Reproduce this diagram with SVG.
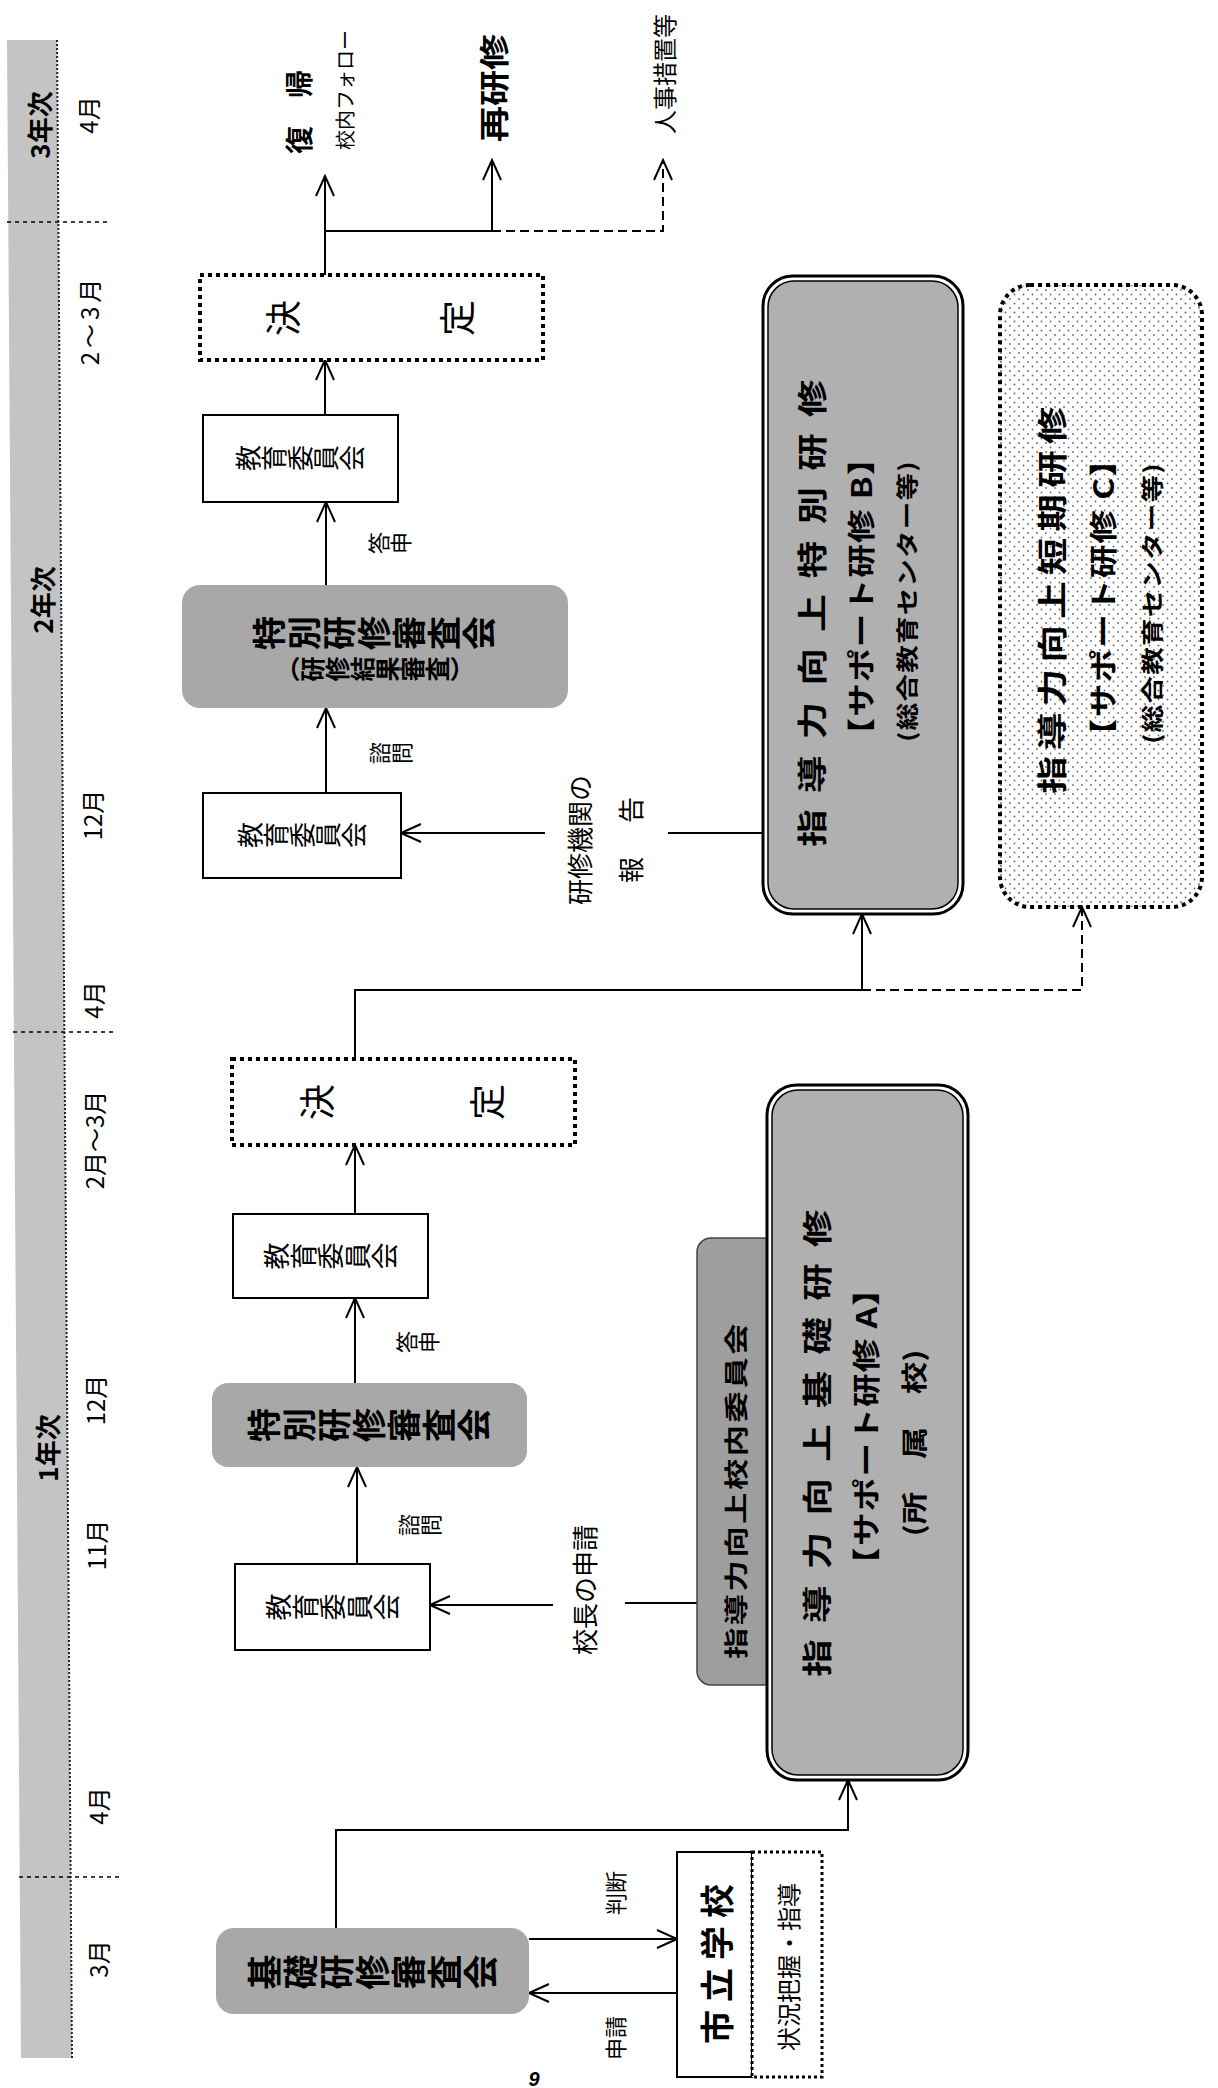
<svg xmlns="http://www.w3.org/2000/svg" width="1218" height="2088" viewBox="0 0 1218 2088">
<style>
.t{font-family:"Noto Sans CJK JP","Noto Sans CJK SC",sans-serif;fill:#000}
.b{font-weight:700}
.v{writing-mode:vertical-rl}
.ln{stroke:#000;stroke-width:2;fill:none}
.dsh{stroke-dasharray:9 5}
.box{fill:#fff;stroke:#000;stroke-width:2}
.dotb{fill:#fff;stroke:#000;stroke-width:4;stroke-dasharray:4 4}
.gray{fill:#a8a8a8}
.sep{stroke:#000;stroke-width:1.5;stroke-dasharray:4 4;fill:none}
</style>
<defs>
<marker id="arr" viewBox="-24 -12 26 24" refX="0" refY="0" markerWidth="26" markerHeight="24" markerUnits="userSpaceOnUse" orient="auto">
<path d="M-20,-9 L0,0 L-20,9" fill="none" stroke="#000" stroke-width="2" stroke-linejoin="miter"/>
</marker>
<pattern id="dots" width="9" height="9" patternUnits="userSpaceOnUse">
<circle cx="2" cy="2" r="0.9" fill="#666"/><circle cx="6.5" cy="6.5" r="0.9" fill="#666"/>
</pattern>
</defs>
<rect width="1218" height="2088" fill="#fff"/>

<g id="timeline">
<polygon points="7,40 57,40 72,2058 21,2058" fill="#c4c4c4"/>
<line x1="57" y1="40" x2="72" y2="2058" stroke="#222" stroke-width="2" stroke-dasharray="2 2"/>
<line class="sep" x1="7" y1="222" x2="110" y2="222"/>
<line class="sep" x1="13" y1="1032" x2="116" y2="1032"/>
<line class="sep" x1="19" y1="1877" x2="123" y2="1877"/>
<text class="t b" font-size="26" text-anchor="middle" dominant-baseline="central" transform="translate(38,125) rotate(-90)">3年次</text>
<text class="t b" font-size="26" text-anchor="middle" dominant-baseline="central" transform="translate(41,600) rotate(-90)">2年次</text>
<text class="t b" font-size="26" text-anchor="middle" dominant-baseline="central" transform="translate(46,1448) rotate(-90)">1年次</text>
<text class="t" font-size="24" text-anchor="middle" dominant-baseline="central" transform="translate(87,115) rotate(-90)">4月</text>
<text class="t" font-size="24" text-anchor="middle" dominant-baseline="central" letter-spacing="4" transform="translate(88,320) rotate(-90)">2〜3月</text>
<text class="t" font-size="24" text-anchor="middle" dominant-baseline="central" transform="translate(91,815) rotate(-90)">12月</text>
<text class="t" font-size="24" text-anchor="middle" dominant-baseline="central" transform="translate(92,1000) rotate(-90)">4月</text>
<text class="t" font-size="24" text-anchor="middle" dominant-baseline="central" transform="translate(93,1140) rotate(-90)">2月〜3月</text>
<text class="t" font-size="24" text-anchor="middle" dominant-baseline="central" transform="translate(94,1400) rotate(-90)">12月</text>
<text class="t" font-size="24" text-anchor="middle" dominant-baseline="central" transform="translate(95,1545) rotate(-90)">11月</text>
<text class="t" font-size="24" text-anchor="middle" dominant-baseline="central" transform="translate(97,1806) rotate(-90)">4月</text>
<text class="t" font-size="24" text-anchor="middle" dominant-baseline="central" transform="translate(97,1959) rotate(-90)">3月</text>
</g>

<g id="connectors">
<path class="ln" d="M325,275 V176" marker-end="url(#arr)"/>
<path class="ln" d="M325,231 H492 V160" marker-end="url(#arr)"/>
<path class="ln dsh" d="M492,231 H663 V160" marker-end="url(#arr)"/>
<path class="ln" d="M325,415 V360" marker-end="url(#arr)"/>
<path class="ln" d="M326,585 V502" marker-end="url(#arr)"/>
<path class="ln" d="M326,793 V708" marker-end="url(#arr)"/>
<path class="ln" d="M545,833 H401" marker-end="url(#arr)"/>
<path class="ln" d="M668,833 H763"/>
<path class="ln" d="M355,1059 V990 H862 V914" marker-end="url(#arr)"/>
<path class="ln dsh" d="M862,990 H1082 V907" marker-end="url(#arr)"/>
<path class="ln" d="M355,1214 V1145" marker-end="url(#arr)"/>
<path class="ln" d="M355,1383 V1298" marker-end="url(#arr)"/>
<path class="ln" d="M357,1564 V1467" marker-end="url(#arr)"/>
<path class="ln" d="M553,1605 H430" marker-end="url(#arr)"/>
<path class="ln" d="M625,1603 H697"/>
<path class="ln" d="M336,1928 V1830 H848 V1780" marker-end="url(#arr)"/>
<path class="ln" d="M529,1939 H677" marker-end="url(#arr)"/>
<path class="ln" d="M677,1993 H529" marker-end="url(#arr)"/>
</g>

<g id="label-fukki">
<text class="t b" font-size="28" text-anchor="middle" dominant-baseline="central" transform="translate(298,112) rotate(-90)">復　帰</text>
<text class="t" font-size="20" text-anchor="middle" dominant-baseline="central" transform="translate(344,90) rotate(-90)">校内フォロー</text>
</g>
<g id="label-saikenshu">
<text class="t b" font-size="30" text-anchor="middle" dominant-baseline="central" transform="translate(492,88) rotate(-90) scale(1.2,1)">再研修</text>
</g>
<g id="label-jinji">
<text class="t" font-size="24" text-anchor="middle" dominant-baseline="central" transform="translate(663,74) rotate(-90)">人事措置等</text>
</g>

<g id="kettei-2">
<rect class="dotb" x="200" y="275" width="343" height="85"/>
<text class="t v" font-size="36" text-anchor="middle" transform="translate(283,318) rotate(-90)">決</text>
<text class="t v" font-size="36" text-anchor="middle" transform="translate(457,318) rotate(-90)">定</text>
</g>
<g id="kyoiku-2b">
<rect class="box" x="203" y="415" width="195" height="87"/>
<text class="t v" font-size="26" text-anchor="middle" transform="translate(300,458) rotate(-90)">教育委員会</text>
</g>
<g id="toshin-2">
<text class="t v" font-size="22" text-anchor="middle" transform="translate(390,543) rotate(-90)">答申</text>
</g>
<g id="tokubetsu-2">
<rect class="gray" x="182" y="585" width="386" height="123" rx="18"/>
<text class="t v b" font-size="34" letter-spacing="1" text-anchor="middle" transform="translate(375,633) rotate(-90)">特別研修審査会</text>
<text class="t v b" font-size="25" text-anchor="middle" transform="translate(375,669) rotate(-90)">（研修結果審査）</text>
</g>
<g id="shimon-2">
<text class="t v" font-size="22" text-anchor="middle" transform="translate(391,753) rotate(-90)">諮問</text>
</g>
<g id="kyoiku-2a">
<rect class="box" x="203" y="793" width="198" height="85"/>
<text class="t v" font-size="26" text-anchor="middle" transform="translate(302,835) rotate(-90)">教育委員会</text>
</g>
<g id="houkoku">
<text class="t" font-size="26" text-anchor="middle" dominant-baseline="central" transform="translate(578,840) rotate(-90)">研修機関の</text>
<text class="t" font-size="26" letter-spacing="4" text-anchor="middle" dominant-baseline="central" transform="translate(629,838) rotate(-90)">報　告</text>
</g>

<g id="kenshu-b">
<rect x="763" y="276" width="200" height="638" rx="30" fill="#fff" stroke="#000" stroke-width="3"/>
<rect x="768" y="281" width="190" height="628" rx="26" fill="#b0b0b0" stroke="#000" stroke-width="1.5"/>
<text class="t b" font-size="30" letter-spacing="13" text-anchor="middle" dominant-baseline="central" transform="translate(810,605) rotate(-90) scale(1.25,1)">指導力向上特別研修</text>
<text class="t b" font-size="28" letter-spacing="1" text-anchor="middle" dominant-baseline="central" transform="translate(860,596) rotate(-90) scale(1.2,1)">【サポート研修 B】</text>
<text class="t b" font-size="22" letter-spacing="1" text-anchor="middle" dominant-baseline="central" transform="translate(905,601) rotate(-90) scale(1.25,1)">(総合教育センター等)</text>
</g>
<g id="kenshu-c">
<rect x="1000" y="285" width="202" height="622" rx="30" fill="url(#dots)"/>
<rect x="1000" y="285" width="202" height="622" rx="30" fill="none" stroke="#000" stroke-width="4" stroke-dasharray="4 4"/>
<text class="t b" font-size="30" letter-spacing="5" text-anchor="middle" dominant-baseline="central" transform="translate(1050,597) rotate(-90) scale(1.25,1)">指導力向上短期研修</text>
<text class="t b" font-size="28" letter-spacing="1" text-anchor="middle" dominant-baseline="central" transform="translate(1102,597) rotate(-90) scale(1.2,1)">【サポート研修 C】</text>
<text class="t b" font-size="22" letter-spacing="1" text-anchor="middle" dominant-baseline="central" transform="translate(1150,603) rotate(-90) scale(1.25,1)">(総合教育センター等)</text>
</g>

<g id="kettei-1">
<rect class="dotb" x="232" y="1059" width="343" height="86"/>
<text class="t v" font-size="36" text-anchor="middle" transform="translate(317,1102) rotate(-90)">決</text>
<text class="t v" font-size="36" text-anchor="middle" transform="translate(487,1102) rotate(-90)">定</text>
</g>
<g id="kyoiku-1b">
<rect class="box" x="233" y="1214" width="195" height="84"/>
<text class="t v" font-size="27" text-anchor="middle" transform="translate(331,1256) rotate(-90)">教育委員会</text>
</g>
<g id="toshin-1">
<text class="t v" font-size="22" text-anchor="middle" transform="translate(418,1342) rotate(-90)">答申</text>
</g>
<g id="tokubetsu-1">
<rect class="gray" x="212" y="1383" width="315" height="84" rx="16"/>
<text class="t v b" font-size="34" letter-spacing="1" text-anchor="middle" transform="translate(370,1425) rotate(-90)">特別研修審査会</text>
</g>
<g id="shimon-1">
<text class="t v" font-size="22" text-anchor="middle" transform="translate(420,1525) rotate(-90)">諮問</text>
</g>
<g id="kyoiku-1a">
<rect class="box" x="235" y="1564" width="195" height="86"/>
<text class="t v" font-size="27" text-anchor="middle" transform="translate(333,1607) rotate(-90)">教育委員会</text>
</g>
<g id="shinsei-kocho">
<text class="t" font-size="26" text-anchor="middle" dominant-baseline="central" transform="translate(583,1590) rotate(-90)">校長の申請</text>
</g>
<g id="konai-iinkai">
<rect x="697" y="1238" width="80" height="447" rx="14" fill="#9e9e9e" stroke="#444" stroke-width="1.5"/>
<text class="t b" font-size="24" letter-spacing="2" text-anchor="middle" dominant-baseline="central" transform="translate(735,1490) rotate(-90) scale(1.3,1)">指導力向上校内委員会</text>
</g>
<g id="kenshu-a">
<rect x="767" y="1085" width="201" height="695" rx="30" fill="#fff" stroke="#000" stroke-width="3"/>
<rect x="772" y="1090" width="191" height="685" rx="26" fill="#b0b0b0" stroke="#000" stroke-width="1.5"/>
<text class="t b" font-size="30" letter-spacing="13" text-anchor="middle" dominant-baseline="central" transform="translate(815,1435) rotate(-90) scale(1.25,1)">指導力向上基礎研修</text>
<text class="t b" font-size="28" letter-spacing="1" text-anchor="middle" dominant-baseline="central" transform="translate(865,1426) rotate(-90) scale(1.2,1)">【サポート研修 A】</text>
<text class="t b" font-size="26" text-anchor="middle" dominant-baseline="central" transform="translate(913,1443) rotate(-90) scale(1.25,1)">(所　属　校)</text>
</g>

<g id="kiso-shinsakai">
<rect class="gray" x="216" y="1928" width="313" height="86" rx="18"/>
<text class="t v b" font-size="35" letter-spacing="1" text-anchor="middle" transform="translate(373,1972) rotate(-90)">基礎研修審査会</text>
</g>
<g id="handan">
<text class="t" font-size="22" text-anchor="middle" dominant-baseline="central" transform="translate(614,1893) rotate(-90)">判断</text>
</g>
<g id="shinsei">
<text class="t" font-size="22" text-anchor="middle" dominant-baseline="central" transform="translate(614,2038) rotate(-90)">申請</text>
</g>
<g id="shiritsu-gakko">
<rect class="box" x="677" y="1852" width="75" height="225"/>
<text class="t b" font-size="34" letter-spacing="8" text-anchor="middle" dominant-baseline="central" transform="translate(715,1960) rotate(-90)">市立学校</text>
</g>
<g id="jokyo-haaku">
<rect x="752" y="1852" width="70" height="225" fill="#fff" stroke="#000" stroke-width="3" stroke-dasharray="3 3"/>
<text class="t" font-size="24" text-anchor="middle" dominant-baseline="central" transform="translate(787,1967) rotate(-90)">状況把握・指導</text>
</g>
<text x="534" y="2086" font-family="Liberation Sans, sans-serif" font-weight="700" font-style="italic" font-size="20" text-anchor="middle">9</text>
</svg>
